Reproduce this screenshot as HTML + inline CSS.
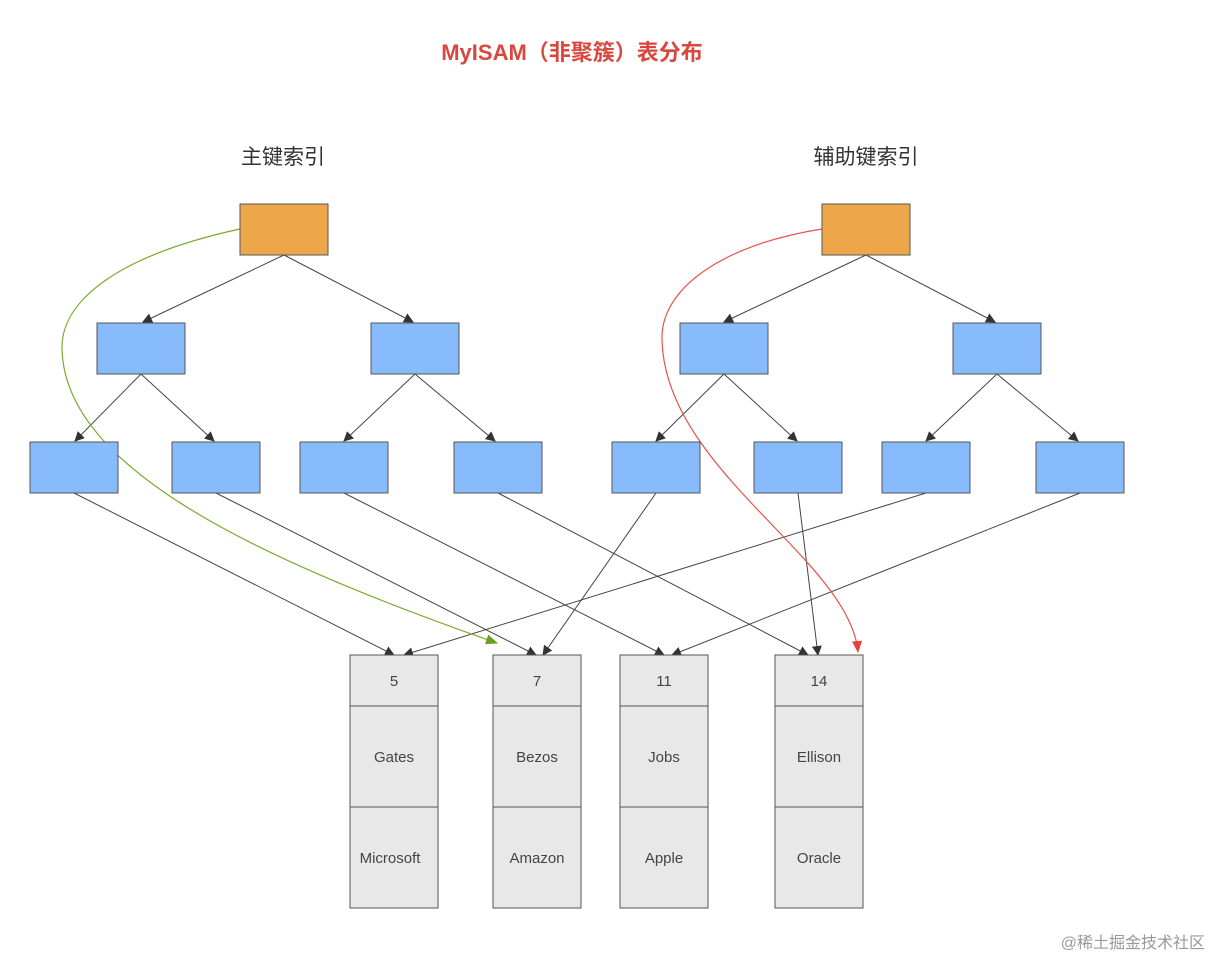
<!DOCTYPE html>
<html><head><meta charset="utf-8"><style>
body{margin:0;background:#fff;}
svg{display:block;font-family:"Liberation Sans","Noto Sans CJK SC",sans-serif;}
</style></head><body>
<svg width="1232" height="978" viewBox="0 0 1232 978">
<defs>
<marker id="a" markerWidth="10" markerHeight="10" refX="9" refY="5" orient="auto" markerUnits="userSpaceOnUse" viewBox="0 0 10 10"><path d="M0,0 L10,5 L0,10 z" fill="#333"/></marker>
<marker id="g" markerWidth="12" markerHeight="10" refX="11" refY="5" orient="auto" markerUnits="userSpaceOnUse" viewBox="0 0 12 10"><path d="M0,0 L12,5 L0,10 z" fill="#6a9e1f"/></marker>
<marker id="r" markerWidth="12" markerHeight="10" refX="11" refY="5" orient="auto" markerUnits="userSpaceOnUse" viewBox="0 0 12 10"><path d="M0,0 L12,5 L0,10 z" fill="#e8413a"/></marker>
</defs>
<text x="572" y="60" text-anchor="middle" font-size="22" font-weight="bold" fill="#d9473f">MyISAM（非聚簇）表分布</text>
<text x="283" y="164" text-anchor="middle" font-size="21" fill="#333">主键索引</text>
<text x="866" y="164" text-anchor="middle" font-size="21" fill="#333">辅助键索引</text>
<g stroke="#444" stroke-width="1" fill="none" marker-end="url(#a)">
<line x1="284" y1="255" x2="143" y2="322"/>
<line x1="284" y1="255" x2="413" y2="322"/>
<line x1="141" y1="374" x2="75" y2="441"/>
<line x1="141" y1="374" x2="214" y2="441"/>
<line x1="415" y1="374" x2="344" y2="441"/>
<line x1="415" y1="374" x2="495" y2="441"/>
<line x1="866" y1="255" x2="724" y2="322"/>
<line x1="866" y1="255" x2="995" y2="322"/>
<line x1="724" y1="374" x2="656" y2="441"/>
<line x1="724" y1="374" x2="797" y2="441"/>
<line x1="997" y1="374" x2="926" y2="441"/>
<line x1="997" y1="374" x2="1078" y2="441"/>
<line x1="74" y1="493" x2="394" y2="655"/>
<line x1="216" y1="493" x2="536" y2="655"/>
<line x1="344" y1="493" x2="664" y2="655"/>
<line x1="498" y1="493" x2="808" y2="655"/>
<line x1="656" y1="493" x2="543" y2="655"/>
<line x1="798" y1="493" x2="818" y2="655"/>
<line x1="926" y1="493" x2="404" y2="655"/>
<line x1="1080" y1="493" x2="672" y2="655"/>
</g>
<path d="M240,229 C120,255 60,300 62,350 C66,470 260,560 497,643" fill="none" stroke="#7aab2d" stroke-width="1.2" marker-end="url(#g)"/>
<path d="M822,229 C720,245 660,290 662,340 C665,470 850,560 858,652" fill="none" stroke="#e8524a" stroke-width="1.2" marker-end="url(#r)"/>
<g stroke="#555" stroke-width="1">
<rect x="240" y="204" width="88" height="51" fill="#eea64b"/>
<rect x="822" y="204" width="88" height="51" fill="#eea64b"/>
<g fill="#88bbfb">
<rect x="97" y="323" width="88" height="51"/><rect x="371" y="323" width="88" height="51"/>
<rect x="680" y="323" width="88" height="51"/><rect x="953" y="323" width="88" height="51"/>
<rect x="30" y="442" width="88" height="51"/><rect x="172" y="442" width="88" height="51"/>
<rect x="300" y="442" width="88" height="51"/><rect x="454" y="442" width="88" height="51"/>
<rect x="612" y="442" width="88" height="51"/><rect x="754" y="442" width="88" height="51"/>
<rect x="882" y="442" width="88" height="51"/><rect x="1036" y="442" width="88" height="51"/>
</g>
<g fill="#e8e8e8">
<rect x="350" y="655" width="88" height="253"/><line x1="350" y1="706" x2="438" y2="706"/><line x1="350" y1="807" x2="438" y2="807"/>
<rect x="493" y="655" width="88" height="253"/><line x1="493" y1="706" x2="581" y2="706"/><line x1="493" y1="807" x2="581" y2="807"/>
<rect x="620" y="655" width="88" height="253"/><line x1="620" y1="706" x2="708" y2="706"/><line x1="620" y1="807" x2="708" y2="807"/>
<rect x="775" y="655" width="88" height="253"/><line x1="775" y1="706" x2="863" y2="706"/><line x1="775" y1="807" x2="863" y2="807"/>
</g>
</g>
<g font-size="15" fill="#444" text-anchor="middle">
<text x="394" y="686">5</text><text x="394" y="762">Gates</text><text x="390" y="863">Microsoft</text>
<text x="537" y="686">7</text><text x="537" y="762">Bezos</text><text x="537" y="863">Amazon</text>
<text x="664" y="686">11</text><text x="664" y="762">Jobs</text><text x="664" y="863">Apple</text>
<text x="819" y="686">14</text><text x="819" y="762">Ellison</text><text x="819" y="863">Oracle</text>
</g>
<text x="1205" y="948" text-anchor="end" font-size="16" fill="#999">@稀土掘金技术社区</text>
</svg>
</body></html>
